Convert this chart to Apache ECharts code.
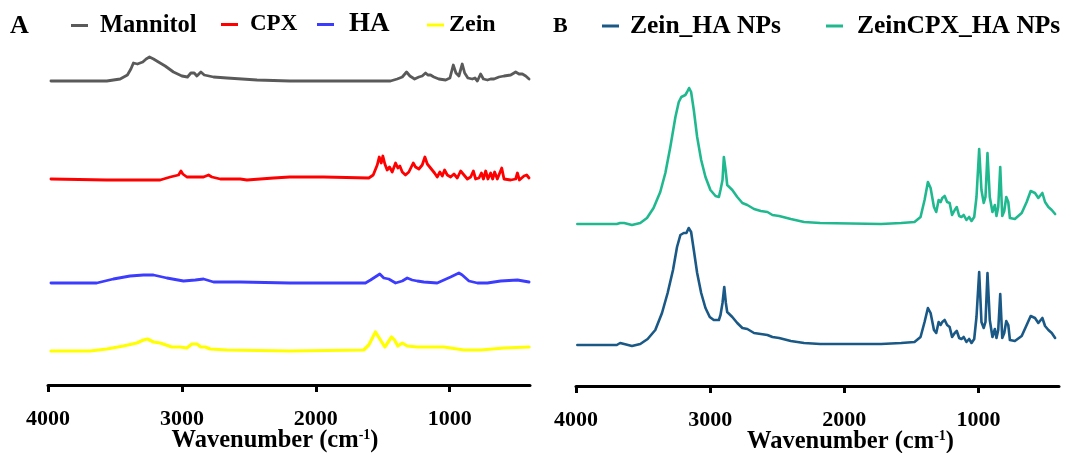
<!DOCTYPE html>
<html>
<head>
<meta charset="utf-8">
<script src="https://cdn.jsdelivr.net/npm/echarts@6/dist/echarts.min.js"></script>
<style>html,body{margin:0;padding:0;background:#fff}#c{width:1077px;height:453px}</style>
</head>
<body>
<div id="c"></div>
<script>
// Tick labels (wavenumber, cm-1)
const tickValues = [4000, 3000, 2000, 1000];

// Panel A spectra: [wavenumber, intensity (a.u., stacked)]
const mannitol = [[3978,304],[3561,304],[3461,306],[3407,310],[3381,316],[3362,322],[3332,321],[3292,323],[3267,326],[3242,328],[3212,326],[3175,323],[3125,319],[3063,313],[3000,309],[2958,308],[2933,312],[2908,312],[2888,309],[2858,313],[2833,310],[2764,308],[2663,307],[2439,305],[2195,304],[1442,304],[1392,306],[1354,308],[1322,313],[1297,309],[1262,306],[1230,308],[1205,309],[1180,312],[1163,310],[1143,310],[1118,308],[1081,306],[1030,305],[998,307],[973,320],[953,312],[931,309],[906,321],[888,312],[864,307],[831,306],[811,307],[793,304],[769,311],[748,306],[718,305],[694,306],[669,306],[632,308],[594,309],[544,310],[507,313],[482,311],[457,311],[432,309],[407,306]];
const cpx = [[3978,206],[3561,205],[3162,205],[3087,208],[3025,210],[3007,214],[2993,211],[2963,208],[2913,208],[2838,208],[2801,210],[2776,208],[2713,206],[2564,206],[2514,205],[2315,207],[2195,208],[1941,208],[1604,207],[1571,210],[1541,220],[1526,228],[1511,222],[1499,229],[1484,221],[1467,215],[1449,218],[1429,213],[1404,222],[1387,217],[1372,219],[1354,213],[1330,210],[1305,213],[1272,222],[1255,218],[1230,216],[1205,220],[1185,228],[1167,221],[1143,217],[1113,212],[1093,208],[1073,213],[1055,209],[1038,215],[1018,210],[993,208],[968,211],[943,207],[918,214],[893,210],[868,206],[843,208],[823,214],[806,206],[781,207],[763,212],[748,206],[731,214],[714,206],[694,212],[679,206],[664,213],[644,206],[611,217],[594,206],[544,205],[507,206],[494,212],[479,205],[445,209],[425,210],[407,207]];
const ha = [[3978,102],[3636,102],[3512,106],[3387,109],[3287,110],[3212,110],[3112,107],[2988,104],[2900,105],[2838,106],[2764,103],[2564,103],[2195,102],[1629,102],[1591,105],[1522,111],[1492,107],[1455,106],[1404,102],[1354,104],[1317,107],[1280,105],[1242,104],[1193,103],[1093,102],[1043,105],[993,108],[931,112],[906,110],[856,104],[793,102],[718,102],[619,104],[494,105],[407,103]];
const zein = [[3978,34],[3686,34],[3561,36],[3437,39],[3337,42],[3287,45],[3257,46],[3212,43],[3162,42],[3075,38],[3013,38],[2963,37],[2925,41],[2888,41],[2858,38],[2826,38],[2788,36],[2663,35],[2195,34],[1642,35],[1604,40],[1554,53],[1517,45],[1484,38],[1434,48],[1412,45],[1387,39],[1354,42],[1317,39],[1242,38],[1130,38],[1043,38],[893,35],[769,35],[594,37],[407,38]];

// Panel B spectra
const zeinCpxHaNPs = [[3990,162],[3696,162],[3671,163],[3641,163],[3583,161],[3521,163],[3471,168],[3422,178],[3372,194],[3334,213],[3297,239],[3259,269],[3234,284],[3215,289],[3185,291],[3172,294],[3157,298],[3142,294],[3122,276],[3097,249],[3067,226],[3035,209],[2998,196],[2960,190],[2935,189],[2923,196],[2908,206],[2898,229],[2885,216],[2873,201],[2835,196],[2798,189],[2760,183],[2723,181],[2673,177],[2623,175],[2573,174],[2536,171],[2486,170],[2399,167],[2300,164],[2180,163],[1726,162],[1576,163],[1477,164],[1432,169],[1402,186],[1377,204],[1357,198],[1332,179],[1315,174],[1297,186],[1282,184],[1270,188],[1252,190],[1234,184],[1215,183],[1197,171],[1177,176],[1162,179],[1144,170],[1127,169],[1110,171],[1090,166],[1070,169],[1052,165],[1032,169],[1015,189],[995,237],[978,196],[961,183],[948,189],[933,233],[916,189],[896,174],[878,181],[866,170],[853,179],[838,219],[823,170],[808,175],[793,189],[778,184],[766,168],[729,167],[678,173],[641,184],[611,195],[579,193],[554,188],[524,193],[504,184],[479,179],[454,176],[429,172]];
const zeinHaNPs = [[3990,41],[3696,41],[3671,43],[3641,42],[3583,40],[3521,42],[3466,47],[3409,56],[3359,73],[3317,93],[3277,116],[3247,139],[3222,151],[3197,153],[3177,153],[3160,158],[3142,154],[3122,136],[3097,113],[3067,93],[3035,78],[3003,69],[2973,66],[2935,66],[2923,71],[2908,83],[2895,99],[2883,83],[2873,74],[2835,69],[2798,63],[2760,58],[2723,57],[2673,53],[2623,52],[2573,51],[2536,49],[2486,48],[2399,45],[2300,43],[2180,42],[1726,42],[1576,43],[1477,44],[1432,49],[1402,64],[1377,78],[1357,73],[1332,56],[1315,53],[1297,64],[1282,61],[1270,64],[1252,66],[1234,61],[1215,59],[1197,49],[1177,53],[1162,55],[1144,48],[1127,47],[1110,49],[1090,44],[1070,47],[1052,43],[1032,47],[1015,69],[995,114],[978,64],[961,58],[948,64],[933,113],[916,66],[896,49],[878,57],[866,48],[853,56],[838,92],[823,48],[808,53],[793,65],[778,61],[766,46],[729,45],[678,50],[641,61],[611,70],[579,68],[554,63],[524,68],[504,60],[479,56],[454,53],[429,48]];

const FONT = '"Liberation Serif", "Times New Roman", serif';

function xAxisFor(gridIndex, namePad) {
  return {
    gridIndex: gridIndex, type: 'value', min: 400, max: 4000, inverse: true,
    axisLine: {show: true, onZero: false, lineStyle: {color: '#000', width: 3}},
    axisTick: {show: true, length: 7, lineStyle: {color: '#000', width: 3}, customValues: tickValues},
    axisLabel: {show: true, customValues: tickValues, formatter: function (v) { return String(v); },
      margin: 23, color: '#000', fontFamily: FONT, fontWeight: 'bold', fontSize: 22},
    splitLine: {show: false},
    name: 'Wavenumber (cm{sup|-1})', nameLocation: 'middle', nameGap: 43, nameMoveOverlap: false,
    nameTextStyle: {color: '#000', fontFamily: FONT, fontWeight: 'bold', fontSize: 24.5, padding: namePad,
      rich: {sup: {fontFamily: FONT, fontWeight: 'bold', fontSize: 14, verticalAlign: 'top', color: '#000'}}}
  };
}
function yAxisFor(gridIndex) {
  return {gridIndex: gridIndex, type: 'value', min: 0, max: 340, show: false, splitLine: {show: false}};
}
function lineSeries(name, data, color, gi, w) {
  return {name: name, type: 'line', xAxisIndex: gi, yAxisIndex: gi, data: data, showSymbol: false, symbol: 'none',
    lineStyle: {color: color, width: w, join: 'round', cap: 'round'}, itemStyle: {color: color}, animation: false};
}
function legendItem(name, left, top, size, gap) {
  return {data: [{name: name, textStyle: {fontSize: size}}], left: left, top: top, padding: 0, icon: 'rect',
    itemWidth: 17, itemHeight: 3, selectedMode: false,
    textStyle: {color: '#000', fontFamily: FONT, fontWeight: 'bold', padding: [0, 0, 0, gap]}};
}

const chart = echarts.init(document.getElementById('c'), null, {renderer: 'canvas'});
chart.setOption({
  backgroundColor: '#fff',
  animation: false,
  title: [
    {text: 'A', left: 10, top: 13, padding: 0, textStyle: {fontFamily: FONT, fontWeight: 'bold', fontSize: 26, color: '#000'}},
    {text: 'B', left: 553, top: 15, padding: 0, textStyle: {fontFamily: FONT, fontWeight: 'bold', fontSize: 22, color: '#000'}}
  ],
  legend: [
    legendItem('Mannitol', 71, 13, 24.5, 7),
    legendItem('CPX', 221, 13, 23, 7),
    legendItem('HA', 317, 11, 27, 10),
    legendItem('Zein', 427, 13, 24, 0),
    legendItem('Zein_HA NPs', 602, 13, 25.5, 6),
    legendItem('ZeinCPX_HA NPs', 826, 13, 25.5, 9)
  ],
  grid: [
    {left: 48, right: 547, top: 45, bottom: 68, outerBoundsMode: 'none', containLabel: false},
    {left: 576, right: 18, top: 46, bottom: 67, outerBoundsMode: 'none', containLabel: false}
  ],
  xAxis: [xAxisFor(0, [0, 28, 0, 0]), xAxisFor(1, [0, 0, 0, 66])],
  yAxis: [yAxisFor(0), yAxisFor(1)],
  series: [
    lineSeries('Mannitol', mannitol, '#5a5a5a', 0, 2.8),
    lineSeries('CPX', cpx, '#ff0000', 0, 2.8),
    lineSeries('HA', ha, '#3c3cff', 0, 2.8),
    lineSeries('Zein', zein, '#ffff00', 0, 3.2),
    lineSeries('Zein_HA NPs', zeinHaNPs, '#1a5886', 1, 2.6),
    lineSeries('ZeinCPX_HA NPs', zeinCpxHaNPs, '#20b98f', 1, 2.6)
  ]
});
</script>
</body>
</html>
